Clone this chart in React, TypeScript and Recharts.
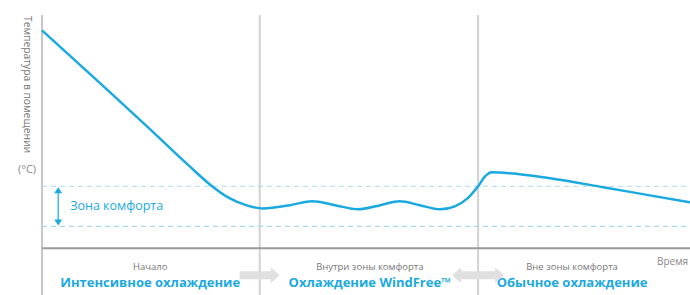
import React from 'react';
import { LineChart, Line, XAxis, YAxis, ReferenceLine, ReferenceDot } from 'recharts';

// time (arbitrary units, 0..100) and room temperature (arbitrary units)
const times = [0, 9, 16.7, 22.8, 25.9, 29, 31.6, 34.1, 38.3, 41.7, 45.2, 48.8, 52.2, 55.2, 58.3, 61.4, 63.7, 65.7, 67.3, 68.4, 69.4, 72.2, 78.4, 86.6, 93.8, 100];
const temps = [93.4, 70.7, 51, 35.1, 27.4, 21.4, 18.4, 17.1, 18.5, 20.2, 18.5, 16.7, 18.5, 20.2, 18.5, 16.7, 18, 21.5, 26.6, 30.9, 32.6, 32.2, 30, 26.2, 22.7, 19.7];

const comfortZone = [9.4, 26.6];
const stageBounds = [33.6, 67.3];
const stageCenters = [16.7, 50.6, 81.8];
const stageNames = ['Начало', 'Внутри зоны комфорта', 'Вне зоны комфорта'];
const stageModes = ['Интенсивное охлаждение', 'Охлаждение WindFree™', 'Обычное охлаждение'];
const arrowSpots = [33.6, 67.3];

const data = times.map((t, i) => ({ t, temp: temps[i] }));

const BLUE = '#1aa9e0';
const FONT = '"Open Sans", "Noto Sans", sans-serif';

const AxisWithLabel = (props: any) => {
  const { x1, y1, y2 } = props;
  const top = Math.min(y1, y2);
  const bot = Math.max(y1, y2);
  return (
    <g>
      <line x1={x1} y1={top} x2={x1} y2={bot} stroke="#b5b5b5" strokeWidth={1.5} />
      <text
        x={x1 - 15}
        y={top + 1}
        transform={`rotate(90 ${x1 - 15} ${top + 1})`}
        fontSize={10.3}
        fill="#777"
        fontFamily={FONT}
        dominantBaseline="middle"
      >
        Температура в помещении
      </text>
      <text x={x1 - 15} y={top + 155} fontSize={11} fill="#888" fontFamily={FONT} textAnchor="middle" dominantBaseline="middle">
        (°C)
      </text>
      <text x={x1 + 615} y={top + 247} fontSize={10} fill="#888" fontFamily={FONT} dominantBaseline="middle">
        Время
      </text>
    </g>
  );
};

const ComfortArrow = (props: any) => {
  const { x1, y1, y2 } = props;
  const top = Math.min(y1, y2);
  const bot = Math.max(y1, y2);
  return (
    <g>
      <line x1={x1} y1={top + 5} x2={x1} y2={bot - 5} stroke={BLUE} strokeWidth={1.2} />
      <polygon points={`${x1 - 4},${top + 7} ${x1 + 4},${top + 7} ${x1},${top + 1}`} fill={BLUE} />
      <polygon points={`${x1 - 4},${bot - 7} ${x1 + 4},${bot - 7} ${x1},${bot - 1}`} fill={BLUE} />
      <text x={x1 + 12} y={(top + bot) / 2} fontSize={12.5} fill={BLUE} fontFamily={FONT} dominantBaseline="middle">
        Зона комфорта
      </text>
    </g>
  );
};

const StageLabel = (i: number) => (props: any) => {
  const { cx, cy } = props;
  return (
    <g>
      <text x={cx} y={cy} fontSize={9.5} fill="#777" fontFamily={FONT} textAnchor="middle" dominantBaseline="middle">
        {stageNames[i]}
      </text>
      <text x={cx} y={cy + 17} fontSize={13} fontWeight="bold" fill={BLUE} fontFamily={FONT} textAnchor="middle" dominantBaseline="middle">
        {stageModes[i]}
      </text>
    </g>
  );
};

const GrayArrow = (both: boolean) => (props: any) => {
  const { cx, cy } = props;
  const w = both ? 26 : 20;
  const pts = both
    ? `${cx - w},${cy} ${cx - w + 9},${cy - 8} ${cx - w + 9},${cy - 4} ${cx + w - 9},${cy - 4} ${cx + w - 9},${cy - 8} ${cx + w},${cy} ${cx + w - 9},${cy + 8} ${cx + w - 9},${cy + 4} ${cx - w + 9},${cy + 4} ${cx - w + 9},${cy + 8}`
    : `${cx - w},${cy - 4} ${cx + w - 9},${cy - 4} ${cx + w - 9},${cy - 8} ${cx + w},${cy} ${cx + w - 9},${cy + 8} ${cx + w - 9},${cy + 4} ${cx - w},${cy + 4}`;
  return <polygon points={pts} fill="#e0e0e0" />;
};

export default function App() {
  return (
    <div style={{ position: 'absolute', left: 0, top: 0, width: 690, height: 295, background: '#fff' }}>
      <LineChart width={690} height={295} data={data} margin={{ top: 15, right: 0, bottom: 0, left: 42 }}>
        <XAxis dataKey="t" type="number" domain={[0, 100]} hide />
        <YAxis type="number" domain={[-20, 100]} hide />
        {stageBounds.map((b) => (
          <ReferenceLine key={b} x={b} stroke="#d2d2d2" strokeWidth={2} />
        ))}
        <ReferenceLine x={0} shape={AxisWithLabel} />
        <ReferenceLine y={0} stroke="#9a9a9a" strokeWidth={2} />
        {comfortZone.map((c) => (
          <ReferenceLine key={c} y={c} stroke="#a9d9ef" strokeWidth={1.2} strokeDasharray="5 4" />
        ))}
        <ReferenceLine
          segment={[{ x: 2.5, y: comfortZone[0] }, { x: 2.5, y: comfortZone[1] }]}
          shape={ComfortArrow}
        />
        {stageCenters.map((c, i) => (
          <ReferenceDot key={c} x={c} y={-8} r={0} shape={StageLabel(i)} />
        ))}
        {arrowSpots.map((a, i) => (
          <ReferenceDot key={a} x={a} y={-11.5} r={0} shape={GrayArrow(i === 1)} />
        ))}
        <Line type="monotone" dataKey="temp" stroke={BLUE} strokeWidth={2.5} dot={false} isAnimationActive={false} />
      </LineChart>
    </div>
  );
}
